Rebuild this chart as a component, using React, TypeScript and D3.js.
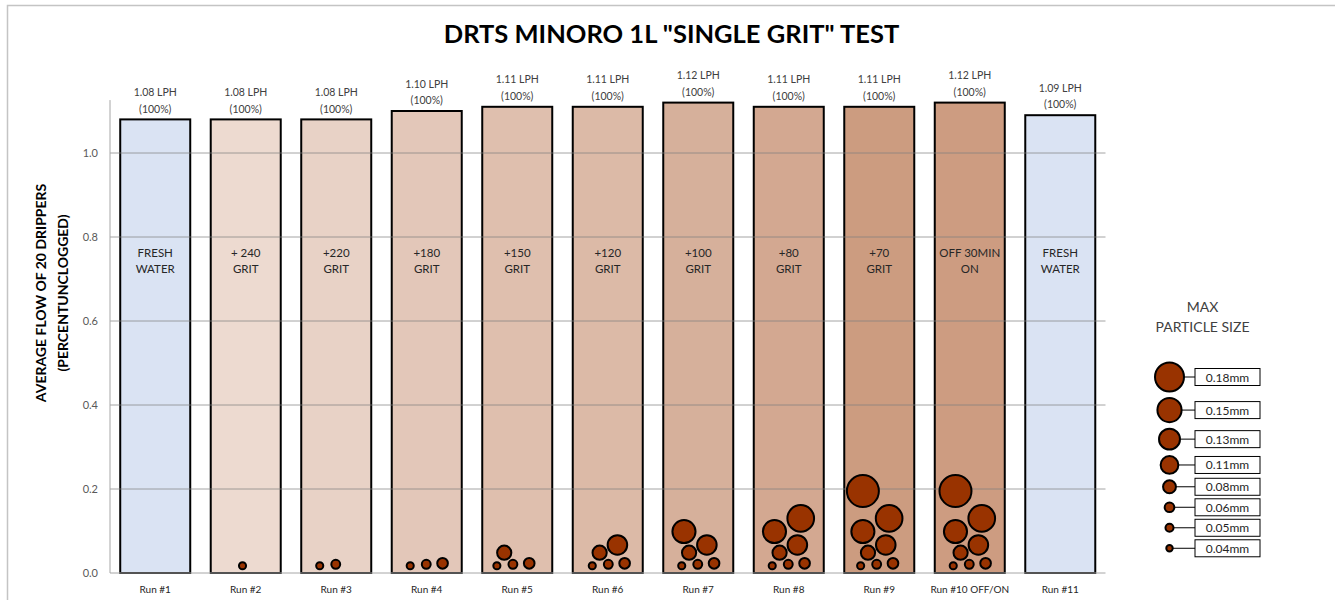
import React from "react";
import * as d3 from "d3";

const runs = ["Run #1", "Run #2", "Run #3", "Run #4", "Run #5", "Run #6", "Run #7", "Run #8", "Run #9", "Run #10 OFF/ON", "Run #11"];
const flows = [1.08, 1.08, 1.08, 1.10, 1.11, 1.11, 1.12, 1.11, 1.11, 1.12, 1.09];
const pctLabels = ["(100%)", "(100%)", "(100%)", "(100%)", "(100%)", "(100%)", "(100%)", "(100%)", "(100%)", "(100%)", "(100%)"];
const treatLine1 = ["FRESH", "+ 240", "+220", "+180", "+150", "+120", "+100", "+80", "+70", "OFF 30MIN", "FRESH"];
const treatLine2 = ["WATER", "GRIT", "GRIT", "GRIT", "GRIT", "GRIT", "GRIT", "GRIT", "GRIT", "ON", "WATER"];
const barColors = ["#dae3f3", "#eddad0", "#e8d2c6", "#e3c7b9", "#dfbfae", "#dcbaa7", "#d6b09b", "#d3a891", "#cc9c80", "#cd9c81", "#dae3f3"];
const yTicks = [0, 0.2, 0.4, 0.6, 0.8, 1.0];

// particle sizes (mm), in the order they were added run by run
const particleSizes = [0.04, 0.05, 0.06, 0.08, 0.11, 0.13, 0.15, 0.18];
const particleCounts = [0, 1, 2, 3, 4, 5, 6, 7, 8, 8, 0];
// placement of each particle inside a bar: x as fraction of bar width from centre, y in flow units
const slotDx = [-0.236, -0.007, 0.226, -0.131, 0.123, -0.204, 0.171, -0.204];
const slotY = [0.0174, 0.0207, 0.0231, 0.0483, 0.0667, 0.0988, 0.13, 0.195];
const clusterShift = [0, 0.19, 0, 0, -0.055, 0.015, 0, 0, -0.03, 0, 0];
const legendSizes = [0.18, 0.15, 0.13, 0.11, 0.08, 0.06, 0.05, 0.04];

const FONT = "Lato, 'Open Sans', sans-serif";
const W = 1335;
const H = 600;

export default function App() {
  const x = d3.scaleBand<string>().domain(runs).range([110, 1105.5]).paddingInner(0.2265).paddingOuter(0.113);
  const y = d3.scaleLinear().domain([0, 1]).range([573, 153]);
  const bw = x.bandwidth();
  const rBar = d3.scaleLinear().domain([0, 0.18]).range([0, 16]);
  const rLeg = d3.scaleLinear().domain([0, 0.18]).range([0, 14.5]);

  // legend stacking
  const legY: number[] = [];
  legendSizes.forEach((s, i) => {
    if (i === 0) legY.push(377);
    else {
      const prev = legendSizes[i - 1];
      legY.push(legY[i - 1] + Math.max(20.5, rLeg(prev) + rLeg(s) + 6.5));
    }
  });

  const particleFill = "#993300";

  return (
    <svg width={W} height={H} style={{ position: "absolute", left: 0, top: 0, background: "#fff" }} fontFamily={FONT}>
      <rect x={0} y={0} width={W} height={H} fill="#fff" />
      <rect x={7.5} y={5.5} width={W + 50} height={H + 50} fill="#fff" stroke="#c4c4c4" strokeWidth={1.5} />
      <text x={671.5} y={42.5} textAnchor="middle" fontSize={25.5} fontWeight="bold" fill="#000">
        DRTS MINORO 1L "SINGLE GRIT" TEST
      </text>

      {/* bars */}
      {runs.map((r, i) => (
        <rect key={r} x={x(r)} y={y(flows[i])} width={bw} height={y(0) - y(flows[i])} fill={barColors[i]} stroke="#000" strokeWidth={2} />
      ))}

      {/* gridlines */}
      {yTicks.slice(1).map((t) => (
        <line key={t} x1={110} x2={1105.5} y1={y(t)} y2={y(t)} stroke="#7f7f7f" strokeOpacity={0.7} strokeWidth={1} />
      ))}
      {/* axes */}
      <line x1={110} x2={110} y1={y(1.126)} y2={y(0)} stroke="#a6a6a6" strokeWidth={1} />
      <line x1={110} x2={1105.5} y1={y(0)} y2={y(0)} stroke="#a6a6a6" strokeWidth={1} />
      {yTicks.map((t) => (
        <text key={t} x={98} y={y(t) + 4} textAnchor="end" fontSize={11} fill="#595959">
          {d3.format(".1f")(t)}
        </text>
      ))}

      {/* y axis title */}
      <g transform="translate(46,293) rotate(-90)">
        <text x={0} y={0} textAnchor="middle" fontSize={14} fontWeight="bold" fill="#000">AVERAGE FLOW OF 20 DRIPPERS</text>
        <text x={0} y={22} textAnchor="middle" fontSize={14} fontWeight="bold" fill="#000">(PERCENTUNCLOGGED)</text>
      </g>

      {/* value labels */}
      {runs.map((r, i) => (
        <g key={r + "lab"} fontSize={10.5} fill="#404040" textAnchor="middle">
          <text x={(x(r) as number) + bw / 2} y={y(flows[i]) - 23.5}>{flows[i].toFixed(2) + " LPH"}</text>
          <text x={(x(r) as number) + bw / 2} y={y(flows[i]) - 6.8}>{pctLabels[i]}</text>
        </g>
      ))}

      {/* treatment labels */}
      {runs.map((r, i) => (
        <g key={r + "tr"} fontSize={11.5} fill="#262626" textAnchor="middle">
          <text x={(x(r) as number) + bw / 2} y={y(0.752)}>{treatLine1[i]}</text>
          <text x={(x(r) as number) + bw / 2} y={y(0.714)}>{treatLine2[i]}</text>
        </g>
      ))}

      {/* x labels */}
      {runs.map((r) => (
        <text key={r + "x"} x={(x(r) as number) + bw / 2} y={593} textAnchor="middle" fontSize={10} fill="#262626">{r}</text>
      ))}

      {/* particles */}
      {runs.map((r, i) =>
        particleSizes.slice(0, particleCounts[i]).map((s, k) => (
          <circle
            key={r + "p" + k}
            cx={(x(r) as number) + bw / 2 + (slotDx[k] + clusterShift[i]) * bw}
            cy={y(slotY[k])}
            r={rBar(s)}
            fill={particleFill}
            stroke="#000"
            strokeWidth={2}
          />
        ))
      )}

      {/* legend */}
      <g fontSize={14} fill="#404040" textAnchor="middle">
        <text x={1202.5} y={312}>MAX</text>
        <text x={1202.5} y={332}>PARTICLE SIZE</text>
      </g>
      {legendSizes.map((s, i) => (
        <g key={"leg" + s}>
          <line x1={1169.5 + rLeg(s)} x2={1195} y1={legY[i]} y2={legY[i]} stroke="#000" strokeWidth={1} />
          <rect x={1195} y={legY[i] - 8.5} width={65} height={17} fill="#fff" stroke="#000" strokeWidth={1} />
          <text x={1227.5} y={legY[i] + 4.5} textAnchor="middle" fontSize={12} fill="#262626">{s.toFixed(2) + "mm"}</text>
          <circle cx={1169.5} cy={legY[i]} r={rLeg(s)} fill={particleFill} stroke="#000" strokeWidth={2} />
        </g>
      ))}
    </svg>
  );
}
